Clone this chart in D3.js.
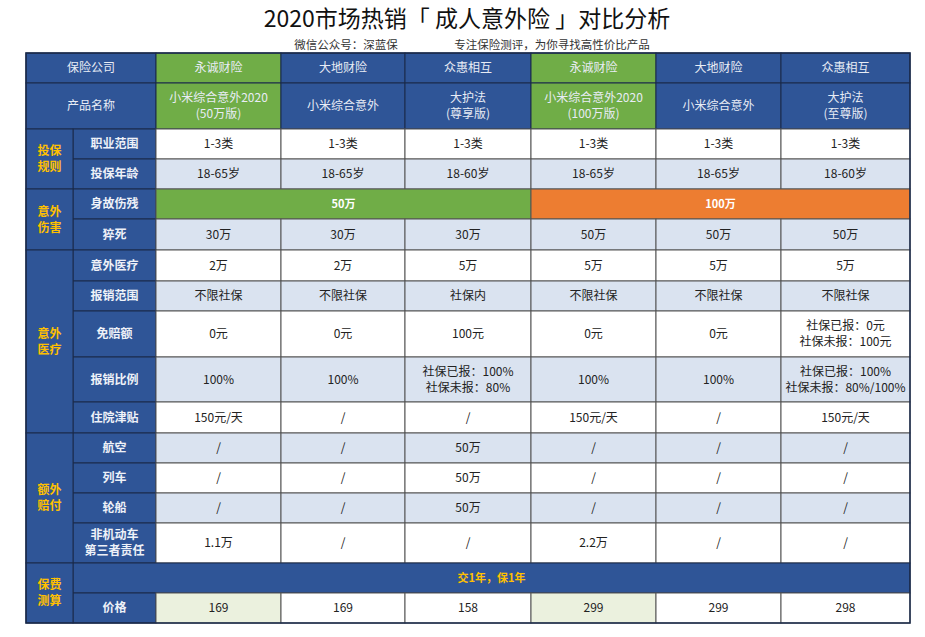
<!DOCTYPE html>
<html><head><meta charset="utf-8">
<script src="https://cdn.jsdelivr.net/npm/d3@7"></script>
<style>body{margin:0;background:#fff}svg{display:block;font-family:"Noto Sans CJK SC","Noto Sans",sans-serif}</style>
</head><body><svg id="c" width="925" height="637"></svg>
<script>
const title = "2020市场热销「 成人意外险 」对比分析";
const subtitle1 = "微信公众号：深蓝保";
const subtitle2 = "专注保险测评，为你寻找高性价比产品";
const companies = ["永诚财险","大地财险","众惠相互","永诚财险","大地财险","众惠相互"];
const products = [["小米综合意外2020","(50万版)"],["小米综合意外"],["大护法","(尊享版)"],["小米综合意外2020","(100万版)"],["小米综合意外"],["大护法","(至尊版)"]];
const highlightCols = [0,3];
const groups = [
  {name:["投保","规则"], rows:[0,1]},
  {name:["意外","伤害"], rows:[2,3]},
  {name:["意外","医疗"], rows:[4,8]},
  {name:["额外","赔付"], rows:[9,12]},
  {name:["保费","测算"], rows:[13,14]}
];
const rowLabels = [["职业范围"],["投保年龄"],["身故伤残"],["猝死"],["意外医疗"],["报销范围"],["免赔额"],["报销比例"],["住院津贴"],["航空"],["列车"],["轮船"],["非机动车","第三者责任"],[""],["价格"]];
const rowValues = [
  ["1-3类","1-3类","1-3类","1-3类","1-3类","1-3类"],
  ["18-65岁","18-65岁","18-60岁","18-65岁","18-65岁","18-60岁"],
  null,
  ["30万","30万","30万","50万","50万","50万"],
  ["2万","2万","5万","5万","5万","5万"],
  ["不限社保","不限社保","社保内","不限社保","不限社保","不限社保"],
  ["0元","0元","100元","0元","0元","社保已报：0元|社保未报：100元"],
  ["100%","100%","社保已报：100%|社保未报：80%","100%","100%","社保已报：100%|社保未报：80%/100%"],
  ["150元/天","/","/","150元/天","/","150元/天"],
  ["/","/","50万","/","/","/"],
  ["/","/","50万","/","/","/"],
  ["/","/","50万","/","/","/"],
  ["1.1万","/","/","2.2万","/","/"],
  null,
  ["169","169","158","299","299","298"]
];
const deathBenefit = ["50万","100万"];
const premiumNote = "交1年，保1年";
const colEdges = [26,73,156,281,405,531,656,781,910];
const rowEdges = [53,83,129,159,189,219,250,281,311,357,402,433,463,493,523,563,593,623];

const svg = d3.select("#c");
const BLUE="#2F5597", GREEN="#70AD47", ORANGE="#ED7D31", LIGHT="#DAE3F0", PGREEN="#EBF1DE", GOLD="#FFC000";
const x = i=>colEdges[i], y=i=>rowEdges[i];

svg.append("text").attr("x",467).attr("y",27).attr("text-anchor","middle").attr("font-size",23).attr("fill","#111").text(title);
svg.append("text").attr("x",346).attr("y",49).attr("text-anchor","middle").attr("font-size",11.5).attr("fill","#333").text(subtitle1);
svg.append("text").attr("x",552).attr("y",49).attr("text-anchor","middle").attr("font-size",11.5).attr("fill","#333").text(subtitle2);

function cell(x0,y0,x1,y1,fill,lines,color,size,weight,stroke){
  svg.append("rect").attr("x",x0).attr("y",y0).attr("width",x1-x0).attr("height",y1-y0).attr("fill",fill).attr("stroke",stroke||"#555").attr("stroke-width",1);
  const lh=size+4, cy=(y0+y1)/2;
  lines.forEach((t,i)=>svg.append("text").attr("x",(x0+x1)/2).attr("y",cy+(i-(lines.length-1)/2)*lh).attr("dy","0.36em")
    .attr("text-anchor","middle").attr("font-size",size).attr("font-weight",weight||"normal").attr("fill",color).text(t));
}
cell(x(0),y(0),x(2),y(1),BLUE,["保险公司"],"#e8ecf5",12,"normal","#1a2a4a");
cell(x(0),y(1),x(2),y(2),BLUE,["产品名称"],"#e8ecf5",12,"normal","#1a2a4a");
companies.forEach((c,j)=>{
  const f=highlightCols.includes(j)?GREEN:BLUE;
  cell(x(j+2),y(0),x(j+3),y(1),f,[c],"#e8ecf5",12,"normal","#1a2a4a");
  cell(x(j+2),y(1),x(j+3),y(2),f,products[j],"#e8ecf5",12,"normal","#1a2a4a");
});
rowLabels.forEach((lab,r)=>{
  const y0=y(r+2), y1=y(r+3);
  const fill = (r%2===1)?LIGHT:"#fff";
  if(r===13){
    cell(x(1),y0,x(8),y1,BLUE,[premiumNote],GOLD,11,"bold","#1a2a4a");
    return;
  }
  cell(x(1),y0,x(2),y1,BLUE,lab,"#eef1f8",12,"bold","#1a2a4a");
  if(r===2){
    cell(x(2),y0,x(5),y1,GREEN,[deathBenefit[0]],"#fff",11,"bold","#555");
    cell(x(5),y0,x(8),y1,ORANGE,[deathBenefit[1]],"#fff",11,"bold","#555");
    return;
  }
  rowValues[r].forEach((v,j)=>{
    let f=fill;
    if(r===14 && highlightCols.includes(j)) f=PGREEN;
    cell(x(j+2),y0,x(j+3),y1,f,v.split("|"),"#222",12,"normal","#555");
  });
});
groups.forEach(g=>cell(x(0),y(g.rows[0]+2),x(1),y(g.rows[1]+3),BLUE,g.name,GOLD,12,"bold","#1a2a4a"));
svg.append("rect").attr("x",x(0)).attr("y",y(0)).attr("width",x(8)-x(0)).attr("height",y(17)-y(0)).attr("fill","none").attr("stroke","#1a2a4a").attr("stroke-width",1.5);
</script></body></html>
